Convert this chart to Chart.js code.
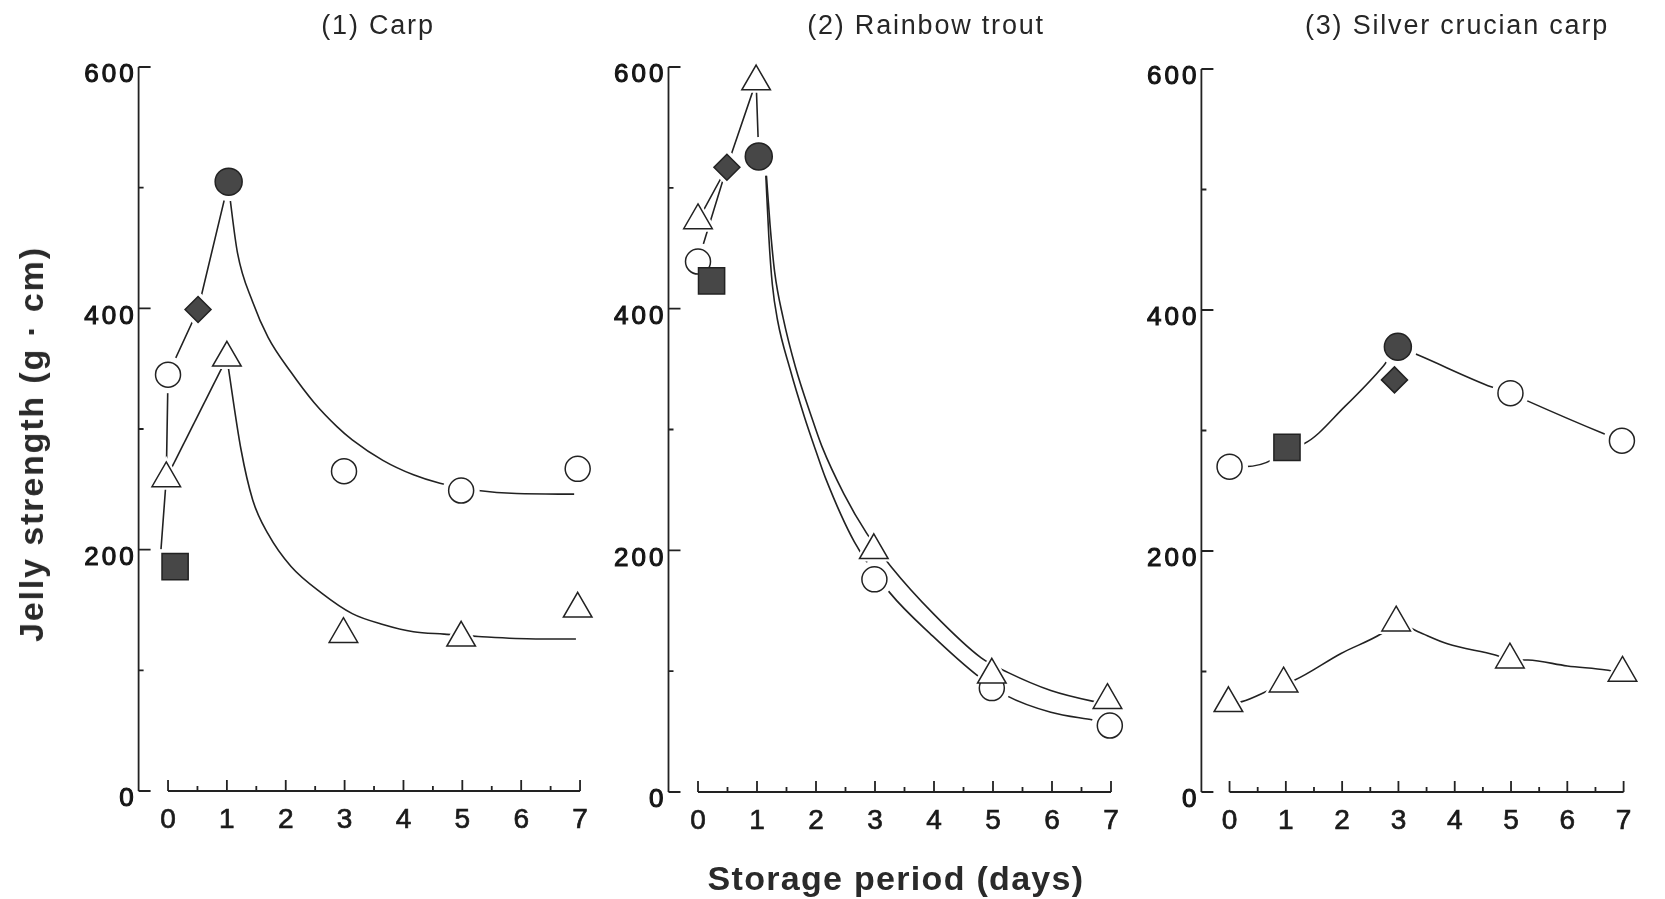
<!DOCTYPE html>
<html>
<head>
<meta charset="utf-8">
<title>Jelly strength vs storage period</title>
<script src="https://cdn.jsdelivr.net/npm/chart.js@4.4.1/dist/chart.umd.min.js"></script>
<style>
  html, body { margin: 0; padding: 0; background: #fff; }
  #page { position: relative; width: 1665px; height: 899px; overflow: hidden;
          font-family: "Liberation Sans", Arial, Helvetica, sans-serif; color: #262626; }
  #page canvas { position: absolute; left: 0; top: 0; }
  .panel-title { position: absolute; top: 12px; font-size: 27px; line-height: 27px;
                 letter-spacing: 1.8px; white-space: nowrap; transform: translateX(-50%); }
  .axis-title { position: absolute; font-weight: bold; font-size: 34px; line-height: 34px;
                white-space: nowrap; color: #2a2a2a; }
  #ytitle { left: 31px; top: 444px; letter-spacing: 1.85px; transform: translate(-50%, -50%) rotate(-90deg); }
  #xtitle { left: 896px; top: 861px; letter-spacing: 1.3px; transform: translateX(-50%); }
</style>
</head>
<body>
<div id="page">
  <canvas id="carp" width="1665" height="899"></canvas>
  <canvas id="trout" width="1665" height="899"></canvas>
  <canvas id="silver" width="1665" height="899"></canvas>
  <div class="panel-title" style="left:378px">(1) Carp</div>
  <div class="panel-title" style="left:926px">(2) Rainbow trout</div>
  <div class="panel-title" style="left:1457px">(3) Silver crucian carp</div>
  <div class="axis-title" id="ytitle">Jelly strength (g · cm)</div>
  <div class="axis-title" id="xtitle">Storage period (days)</div>
</div>
<script>
// axis ticks
const dayTicks = [0, 0.5, 1, 1.5, 2, 2.5, 3, 3.5, 4, 4.5, 5, 5.5, 6, 6.5, 7];
const strengthTicks = [0, 100, 200, 300, 400, 500, 600];

// (1) Carp -- [day, jelly strength g·cm]
const carpOpenCircles = [[0, 345], [2.99, 265], [4.98, 249], [6.96, 267]];
const carpTriangles = [[-0.03, 259], [1.0, 359], [2.98, 130], [4.98, 127], [6.96, 151]];
const carpFilledCircles = [[1.03, 505]];
const carpDiamonds = [[0.51, 399]];
const carpSquares = [[0.12, 186]];
const carpUpperPath = [[-0.12, 200], [-0.03, 259], [0, 345], [0.51, 399], [1.03, 505]];
const carpUpperFit = [[1.03, 500], [1.18, 446], [1.44, 405], [1.7, 376], [2.09, 347], [2.48, 322],
  [2.87, 302], [3.13, 291], [3.65, 274], [4.17, 262], [4.62, 255], [5.27, 249], [5.92, 246.5], [6.9, 246]];
const carpLowerPath = [[-0.03, 259], [1.0, 359]];
const carpLowerFit = [[1.0, 359], [1.24, 283], [1.44, 241], [1.7, 213], [2.09, 186], [2.61, 164],
  [3.13, 147], [3.65, 138], [4.17, 132], [4.69, 130], [5.27, 128], [6.25, 126], [6.93, 126]];

// (2) Rainbow trout
const troutOpenCircles = [[0, 439], [2.99, 176], [4.98, 86], [6.98, 55]];
const troutTriangles = [[0, 473], [0.985, 588], [2.98, 200], [4.98, 97], [6.94, 76]];
const troutFilledCircles = [[1.03, 526]];
const troutDiamonds = [[0.49, 517]];
const troutSquares = [[0.23, 423]];
const troutTrianglePath = [[0, 473], [0.49, 517], [0.985, 588], [1.03, 526]];
const troutCirclePath = [[0, 439], [0.49, 517], [1.03, 526]];
const troutTriangleFit = [[1.16, 510], [1.22, 470], [1.3, 430], [1.44, 393], [1.65, 352], [1.92, 311],
  [2.1, 286], [2.47, 247], [2.86, 214], [3.28, 186], [3.98, 148], [4.8, 111], [5.25, 99], [5.98, 84],
  [6.7, 75], [6.94, 73]];
const troutCircleFit = [[1.15, 510], [1.2, 460], [1.26, 420], [1.35, 390], [1.56, 350], [1.8, 311],
  [2.0, 282], [2.16, 260], [2.65, 207], [3.25, 165], [3.98, 129], [4.77, 95], [5.22, 80], [5.98, 66],
  [6.7, 59.5], [6.98, 57]];

// (3) Silver crucian carp
const silverOpenCircles = [[0, 270], [4.99, 331], [6.97, 291.5]];
const silverTriangles = [[-0.02, 73.6], [0.96, 89.9], [2.96, 140.5], [4.98, 109.8], [6.98, 98.8]];
const silverFilledCircles = [[2.99, 369.5]];
const silverDiamonds = [[2.93, 342]];
const silverSquares = [[1.02, 286]];
const silverUpperFit = [[0, 270], [0.28, 270], [0.77, 276], [1.02, 286], [1.32, 289], [2.05, 320],
  [2.74, 354], [2.99, 369.5], [3.35, 362.6], [4.66, 336], [4.99, 331], [5.27, 325], [6.63, 297.7],
  [6.97, 291.5]];
const silverLowerFit = [[-0.02, 73.6], [0.22, 75], [0.71, 84.6], [0.96, 89.9], [1.16, 93], [1.98, 115],
  [2.71, 131.7], [2.96, 140.5], [3.35, 133], [3.87, 123], [4.72, 113.7], [4.98, 109.8], [5.3, 109.5],
  [6.0, 104.6], [6.69, 101.2], [6.98, 98.8]];

const INK = '#222222';
const FILL = '#474747';
const FONT = "'Liberation Sans', Arial, Helvetica, sans-serif";

const markerStyles = {
  openCircle: { pointStyle: 'circle', radius: 12.5, fill: '#ffffff', order: 2 },
  filledCircle: { pointStyle: 'circle', radius: 13.5, fill: FILL, order: 1 },
  square: { pointStyle: 'rect', radius: 18.5, fill: FILL, order: 1 },
  diamond: { pointStyle: 'rectRot', radius: 13, fill: FILL, order: 1 },
  triangle: { pointStyle: 'triangle', radius: 16.5, fill: '#ffffff', order: 1 },
};

const toXY = pts => pts.map(([x, y]) => ({ x, y }));

// marker plus a white halo underneath, so curves stop short of the symbols
function markerSets(kind, pts) {
  const s = markerStyles[kind];
  return [
    { data: toXY(pts), pointStyle: s.pointStyle, pointRadius: s.radius, pointBackgroundColor: s.fill,
      pointBorderColor: INK, pointBorderWidth: 1.5, order: s.order, clip: false },
    { data: toXY(pts), pointStyle: s.pointStyle, pointRadius: s.radius + 6, pointBackgroundColor: '#ffffff',
      pointBorderWidth: 0, order: 5, clip: false },
  ];
}

function curveSet(pts, smooth) {
  return { data: toXY(pts), showLine: true, pointRadius: 0, borderColor: INK, borderWidth: 1.6,
    tension: 0, cubicInterpolationMode: smooth ? 'monotone' : 'default', order: 10, clip: false };
}

// axis lines with inward tick marks, as in the printed figure
const frameAxes = {
  id: 'frameAxes',
  beforeDraw(chart) {
    // the scanned figure's digits are set a little wider than Liberation Sans
    chart.ctx.letterSpacing = '3px';
  },
  afterDraw(chart) {
    const { ctx, chartArea, scales: { x, y } } = chart;
    const y0 = y.getPixelForValue(strengthTicks[0]);
    const ax = chartArea.left;
    ctx.save();
    ctx.strokeStyle = INK;
    ctx.lineWidth = 1.8;
    ctx.beginPath();
    ctx.moveTo(ax, y.getPixelForValue(strengthTicks[strengthTicks.length - 1]));
    ctx.lineTo(ax, y0);
    y.ticks.forEach(t => {
      const py = y.getPixelForValue(t.value);
      ctx.moveTo(ax, py);
      ctx.lineTo(ax + (t.value % 200 === 0 ? 12 : 5), py);
    });
    ctx.moveTo(x.getPixelForValue(dayTicks[0]), y0);
    ctx.lineTo(x.getPixelForValue(dayTicks[dayTicks.length - 1]), y0);
    x.ticks.forEach(t => {
      const px = x.getPixelForValue(t.value);
      ctx.moveTo(px, y0);
      ctx.lineTo(px, y0 - (Number.isInteger(t.value) ? 11 : 5));
    });
    ctx.stroke();
    ctx.restore();
  }
};

function makePanel(canvasId, frame, datasets) {
  const Y_W = 60, X_H = 50;
  return new Chart(document.getElementById(canvasId), {
    type: 'scatter',
    data: { datasets },
    plugins: [frameAxes],
    options: {
      responsive: false,
      animation: false,
      events: [],
      layout: { padding: { left: frame.left - Y_W, right: 1665 - frame.right, top: frame.top, bottom: 899 - frame.bottom - X_H } },
      plugins: { legend: { display: false }, tooltip: { enabled: false } },
      scales: {
        x: {
          type: 'linear', min: -0.5, max: 7.3,
          afterBuildTicks: s => { s.ticks = dayTicks.map(v => ({ value: v })); },
          afterFit: s => { s.height = X_H; },
          grid: { display: false, drawTicks: false },
          border: { display: false },
          ticks: { autoSkip: false, maxRotation: 0, padding: 12, labelOffset: 1.5, color: '#1a1a1a',
            textStrokeColor: '#1a1a1a', textStrokeWidth: 0.7,
            font: { family: FONT, size: 28 },
            callback: v => Number.isInteger(v) ? String(v) : '' }
        },
        y: {
          type: 'linear', min: 0, max: 600,
          afterBuildTicks: s => { s.ticks = strengthTicks.map(v => ({ value: v })); },
          afterFit: s => { s.width = Y_W; },
          grid: { display: false, drawTicks: false },
          border: { display: false },
          ticks: { autoSkip: false, padding: 2, labelOffset: 8, color: '#151515',
            textStrokeColor: '#151515', textStrokeWidth: 1.1,
            font: { family: FONT, size: 26 },
            callback: v => v % 200 === 0 ? String(v) : '' }
        }
      }
    }
  });
}

makePanel('carp', { left: 138.6, right: 597.7, top: 67, bottom: 791 }, [
  ...markerSets('square', carpSquares),
  ...markerSets('diamond', carpDiamonds),
  ...markerSets('filledCircle', carpFilledCircles),
  ...markerSets('triangle', carpTriangles),
  ...markerSets('openCircle', carpOpenCircles),
  curveSet(carpUpperPath, false),
  curveSet(carpUpperFit, true),
  curveSet(carpLowerPath, false),
  curveSet(carpLowerFit, true),
]);

makePanel('trout', { left: 668.5, right: 1128.7, top: 67, bottom: 792 }, [
  ...markerSets('square', troutSquares),
  ...markerSets('diamond', troutDiamonds),
  ...markerSets('filledCircle', troutFilledCircles),
  ...markerSets('triangle', troutTriangles),
  ...markerSets('openCircle', troutOpenCircles),
  curveSet(troutTrianglePath, false),
  curveSet(troutCirclePath, false),
  curveSet(troutTriangleFit, true),
  curveSet(troutCircleFit, true),
]);

makePanel('silver', { left: 1201.4, right: 1663.8, top: 69, bottom: 792 }, [
  ...markerSets('square', silverSquares),
  ...markerSets('diamond', silverDiamonds),
  ...markerSets('filledCircle', silverFilledCircles),
  ...markerSets('triangle', silverTriangles),
  ...markerSets('openCircle', silverOpenCircles),
  curveSet(silverUpperFit, true),
  curveSet(silverLowerFit, true),
]);
</script>
</body>
</html>
